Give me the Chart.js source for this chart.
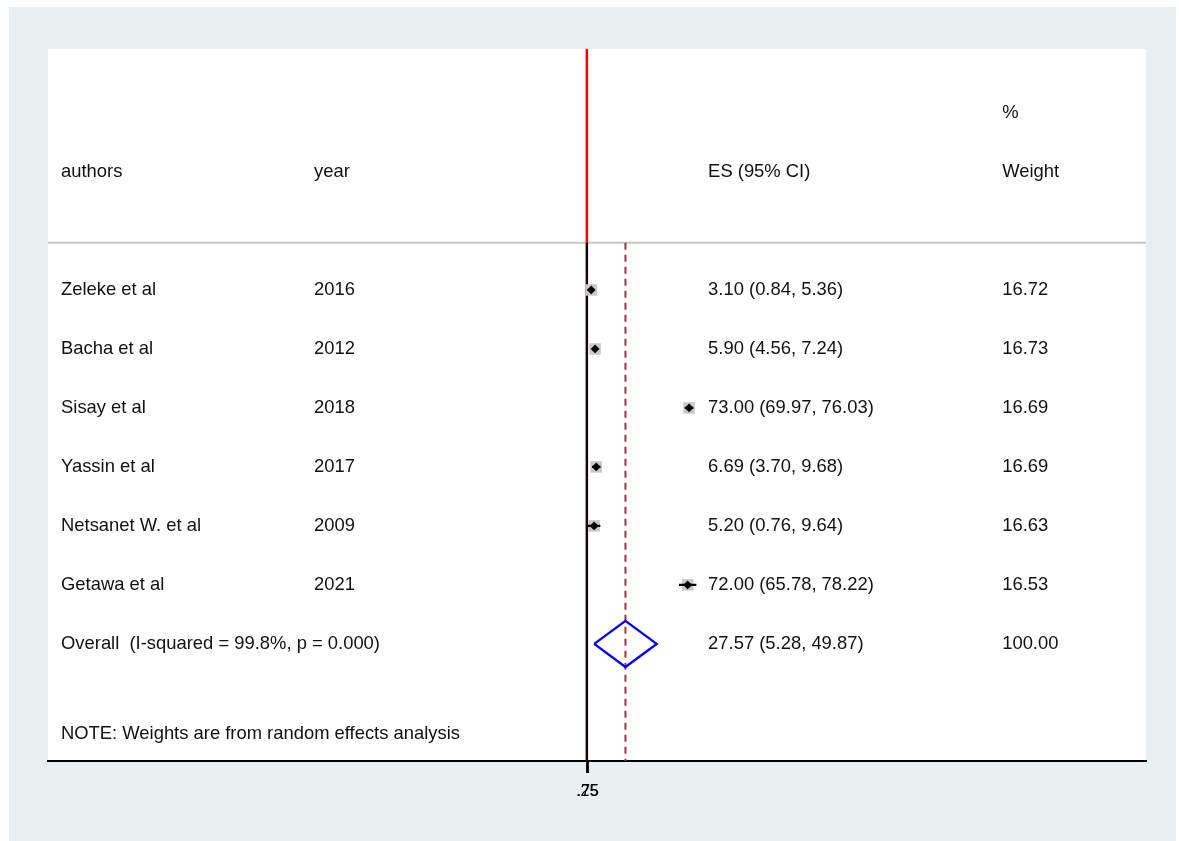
<!DOCTYPE html>
<html>
<head>
<meta charset="utf-8">
<title>Forest plot</title>
<script src="https://cdn.jsdelivr.net/npm/chart.js@4/dist/chart.umd.min.js"></script>
<style>
  html, body { margin: 0; padding: 0; background: #ffffff; }
  canvas { display: block; }
</style>
</head>
<body>
<canvas id="forest" width="1179" height="841"></canvas>
<script>
// Study-level data
const authors = ['Zeleke et al', 'Bacha et al', 'Sisay et al', 'Yassin et al', 'Netsanet W. et al', 'Getawa et al'];
const years = ['2016', '2012', '2018', '2017', '2009', '2021'];
const effect = [3.10, 5.90, 73.00, 6.69, 5.20, 72.00];
const lower = [0.84, 4.56, 69.97, 3.70, 0.76, 65.78];
const upper = [5.36, 7.24, 76.03, 9.68, 9.64, 78.22];
const weight = [16.72, 16.73, 16.69, 16.69, 16.63, 16.53];

// Pooled (random effects) estimate
const overallEffect = 27.57;
const overallLower = 5.28;
const overallUpper = 49.87;
const overallWeight = 100.00;
const overallLabel = 'Overall  (I-squared = 99.8%, p = 0.000)';
const noteText = 'NOTE: Weights are from random effects analysis';

// Axis ticks
const xTickValues = [0.25, 0.75];
const xTickLabels = ['.25', '.75'];

// ---- layout (row units on y, effect units on x) ----
const X_MIN = -384.8, X_MAX = 399.3;
const Y_TOP = -3.085, Y_BOTTOM = 8.985;
const HEADER_RULE = 0.2;
const COL = { author: -375.5, year: -194.8, es: 86.6, weight: 296.6 };
const FONT = '18.4px "Liberation Sans", Arial, Helvetica, sans-serif';
const TEXT_COLOR = '#111111';

const nStudies = effect.length;
const overallRow = nStudies + 1;
const noteRow = overallRow + 1.52;
const fmt = v => v.toFixed(2);

const boxPoints = effect.map((v, i) => ({ x: v, y: i + 1 }));
const ciSegments = [];
effect.forEach((v, i) => {
  ciSegments.push({ x: lower[i], y: i + 1 }, { x: upper[i], y: i + 1 }, { x: upper[i], y: null });
});
const dh = 0.39;
const diamond = [
  { x: overallLower, y: overallRow },
  { x: overallEffect, y: overallRow - dh },
  { x: overallUpper, y: overallRow },
  { x: overallEffect, y: overallRow + dh },
  { x: overallLower, y: overallRow }
];

// box side grows with the square root of the study weight
const BOX_SCALE = 11.5 / Math.sqrt(16.7) / Math.SQRT2;

const backgroundPlugin = {
  id: 'stataBackground',
  beforeDraw(chart) {
    const { ctx, chartArea: a } = chart;
    ctx.save();
    ctx.fillStyle = '#ffffff';
    ctx.fillRect(0, 0, chart.width, chart.height);
    ctx.fillStyle = '#e8eff1';
    ctx.fillRect(9, 7, 1167, chart.height - 7);
    ctx.fillStyle = '#ffffff';
    ctx.fillRect(a.left, a.top, a.right - a.left, a.bottom - a.top);
    ctx.restore();
  },
  beforeDatasetsDraw(chart) {
    const { ctx, chartArea: a, scales } = chart;
    const y = scales.y.getPixelForValue(HEADER_RULE);
    ctx.save();
    ctx.strokeStyle = '#c8c8c8';
    ctx.lineWidth = 2;
    ctx.beginPath();
    ctx.moveTo(a.left, y);
    ctx.lineTo(a.right, y);
    ctx.stroke();
    ctx.restore();
  },
  afterDatasetsDraw(chart) {
    const { ctx, scales } = chart;
    const xs = scales.x, ys = scales.y;
    const put = (txt, col, row) => ctx.fillText(txt, xs.getPixelForValue(COL[col]), ys.getPixelForValue(row));
    ctx.save();
    ctx.font = FONT;
    ctx.fillStyle = TEXT_COLOR;
    ctx.textAlign = 'left';
    ctx.textBaseline = 'middle';
    put('%', 'weight', -2);
    put('authors', 'author', -1);
    put('year', 'year', -1);
    put('ES (95% CI)', 'es', -1);
    put('Weight', 'weight', -1);
    for (let i = 0; i < nStudies; i++) {
      put(authors[i], 'author', i + 1);
      put(years[i], 'year', i + 1);
      put(`${fmt(effect[i])} (${fmt(lower[i])}, ${fmt(upper[i])})`, 'es', i + 1);
      put(fmt(weight[i]), 'weight', i + 1);
    }
    put(overallLabel, 'author', overallRow);
    put(`${fmt(overallEffect)} (${fmt(overallLower)}, ${fmt(overallUpper)})`, 'es', overallRow);
    put(fmt(overallWeight), 'weight', overallRow);
    put(noteText, 'author', noteRow);
    ctx.restore();
  }
};

new Chart(document.getElementById('forest'), {
  type: 'scatter',
  data: {
    datasets: [
      {
        label: 'reference line (top)',
        data: [{ x: 0, y: Y_TOP }, { x: 0, y: HEADER_RULE }],
        showLine: true, borderColor: '#ff0000', borderWidth: 2.5,
        pointRadius: 0, order: 10, clip: false
      },
      {
        label: 'no effect',
        data: [{ x: 0, y: HEADER_RULE }, { x: 0, y: Y_BOTTOM }],
        showLine: true, borderColor: '#1a0505', borderWidth: 2.5,
        pointRadius: 0, order: 9, clip: false
      },
      {
        label: 'overall effect',
        data: [{ x: overallEffect, y: HEADER_RULE }, { x: overallEffect, y: Y_BOTTOM }],
        showLine: true, borderColor: '#a3333f', borderWidth: 2, borderDash: [7, 5],
        pointRadius: 0, order: 8, clip: false
      },
      {
        label: 'weights',
        data: boxPoints,
        pointStyle: 'rect',
        pointRadius: ctx => BOX_SCALE * Math.sqrt(weight[ctx.dataIndex] || 16.7),
        backgroundColor: '#c8c8c8', borderWidth: 0, order: 7
      },
      {
        label: 'confidence intervals',
        data: ciSegments,
        showLine: true, spanGaps: false, borderColor: '#000000', borderWidth: 2.2,
        pointRadius: 0, order: 6
      },
      {
        label: 'estimates',
        data: boxPoints,
        pointStyle: 'rectRot', pointRadius: 4.4,
        backgroundColor: '#000000', borderWidth: 0, order: 5
      },
      {
        label: 'pooled',
        data: diamond,
        showLine: true, borderColor: '#0000ff', borderWidth: 2.4,
        pointRadius: 0, tension: 0, order: 4
      }
    ]
  },
  options: {
    responsive: false,
    animation: false,
    events: [],
    layout: { padding: { left: 48, right: 33, top: 49, bottom: 0 } },
    plugins: { legend: { display: false }, tooltip: { enabled: false } },
    scales: {
      x: {
        type: 'linear',
        min: X_MIN, max: X_MAX,
        afterBuildTicks: s => { s.ticks = xTickValues.map(v => ({ value: v })); },
        afterFit: s => { s.height = 80; },
        ticks: {
          autoSkip: false, minRotation: 0, maxRotation: 0,
          color: '#000000', padding: 9,
          font: { family: '"Liberation Sans", Arial, sans-serif', size: 16 },
          callback: (v) => { const k = xTickValues.indexOf(v); return k >= 0 ? xTickLabels[k] : ''; }
        },
        grid: { drawOnChartArea: false, drawTicks: true, tickLength: 12, tickColor: '#000000', tickWidth: 2.5 },
        border: { display: true, color: '#000000', width: 2 }
      },
      y: {
        type: 'linear', display: false, reverse: true,
        min: Y_TOP, max: Y_BOTTOM
      }
    }
  },
  plugins: [backgroundPlugin]
});
</script>
</body>
</html>
